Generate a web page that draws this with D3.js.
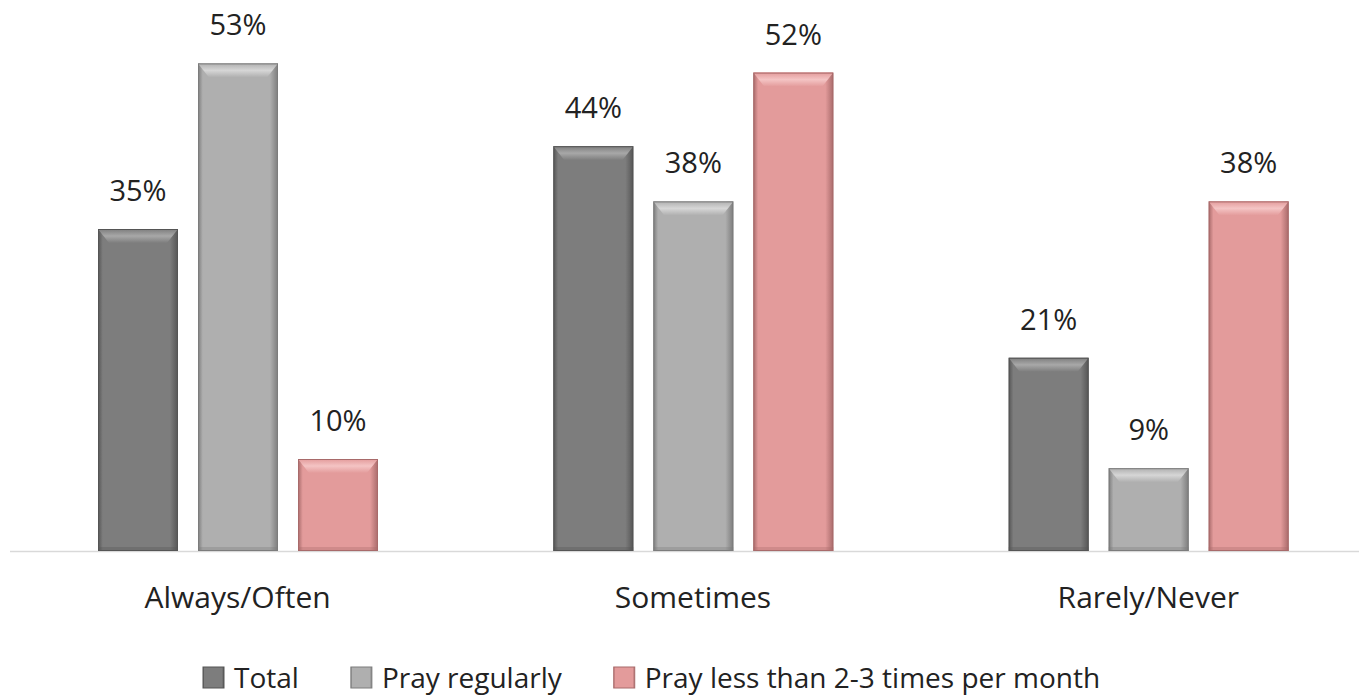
<!DOCTYPE html>
<html><head><meta charset="utf-8">
<script src="https://cdn.jsdelivr.net/npm/d3@7"></script>
<style>body{margin:0;background:#fff}svg{display:block}text{font-family:"Open Sans",sans-serif;fill:#222}</style>
</head><body>
<script>
const categories = ["Always/Often","Sometimes","Rarely/Never"];
const seriesNames = ["Total","Pray regularly","Pray less than 2-3 times per month"];
const total = [35,44,21];
const prayRegularly = [53,38,9];
const prayLess = [10,52,38];
const seriesValues = [total, prayRegularly, prayLess];

const W=1359,H=696;
const colors = [
  {base:"#7d7d7d", light:"#a8a8a8", dark:"#555555"},
  {base:"#afafaf", light:"#d6d6d6", dark:"#7c7c7c"},
  {base:"#e39b9b", light:"#f4c4c4", dark:"#a86a6a"}
];
const svg=d3.select("body").append("svg").attr("width",W).attr("height",H);
const defs=svg.append("defs");
colors.forEach((c,i)=>{
  const g=defs.append("linearGradient").attr("id","hg"+i).attr("x1",0).attr("x2",1).attr("y1",0).attr("y2",0);
  g.append("stop").attr("offset","0").attr("stop-color",c.dark);
  g.append("stop").attr("offset","0.06").attr("stop-color",c.base);
  g.append("stop").attr("offset","0.9").attr("stop-color",c.base);
  g.append("stop").attr("offset","1").attr("stop-color",c.dark);
  const t=defs.append("linearGradient").attr("id","tg"+i).attr("x1",0).attr("x2",0).attr("y1",0).attr("y2",1);
  t.append("stop").attr("offset","0").attr("stop-color",c.base);
  t.append("stop").attr("offset","0.5").attr("stop-color",c.light);
  t.append("stop").attr("offset","1").attr("stop-color",c.base);
});

const x0=d3.scaleBand().domain(categories).range([10,1376]);
const x1=d3.scaleBand().domain(d3.range(3)).range([88,368]).paddingInner(0.2);
const y=d3.scaleLinear().domain([0,60]).range([551,-1]);

svg.append("line").attr("x1",10).attr("x2",W).attr("y1",y(0)+0.5).attr("y2",y(0)+0.5).attr("stroke","#d9d9d9").attr("stroke-width",1.5);

categories.forEach((cat,ci)=>{
  seriesValues.forEach((vals,si)=>{
    const v=vals[ci];
    const bx=x0(cat)+x1(si), bw=x1.bandwidth(), by=y(v), bh=y(0)-y(v);
    const g=svg.append("g");
    g.append("rect").attr("x",bx).attr("y",by).attr("width",bw).attr("height",bh).attr("fill",`url(#hg${si})`);
    const b=11;
    g.append("polygon").attr("points",`${bx},${by} ${bx+bw},${by} ${bx+bw-b},${by+b+3} ${bx+b},${by+b+3}`).attr("fill",`url(#tg${si})`);
    g.append("rect").attr("x",bx).attr("y",y(0)-4).attr("width",bw).attr("height",4).attr("fill",colors[si].dark).attr("opacity",0.35);
    g.append("rect").attr("x",bx+0.5).attr("y",by+0.5).attr("width",bw-1).attr("height",bh-1).attr("fill","none").attr("stroke",colors[si].dark).attr("stroke-width",1);
    svg.append("text").attr("x",bx+bw/2).attr("y",by-28).attr("text-anchor","middle").attr("font-size",29).text(v+"%");
  });
  svg.append("text").attr("x",x0(cat)+x0.bandwidth()/2).attr("y",608).attr("text-anchor","middle").attr("font-size",30).text(cat);
});

const lg=svg.append("g");
let lx=203;
seriesNames.forEach((n,i)=>{
  lg.append("rect").attr("x",lx).attr("y",667).attr("width",21).attr("height",21).attr("fill",`url(#hg${i})`).attr("stroke",colors[i].dark);
  const t=lg.append("text").attr("x",lx+31).attr("y",688).attr("font-size",28).text(n);
  lx+=31+t.node().getComputedTextLength()+52;
});
</script>
</body></html>
